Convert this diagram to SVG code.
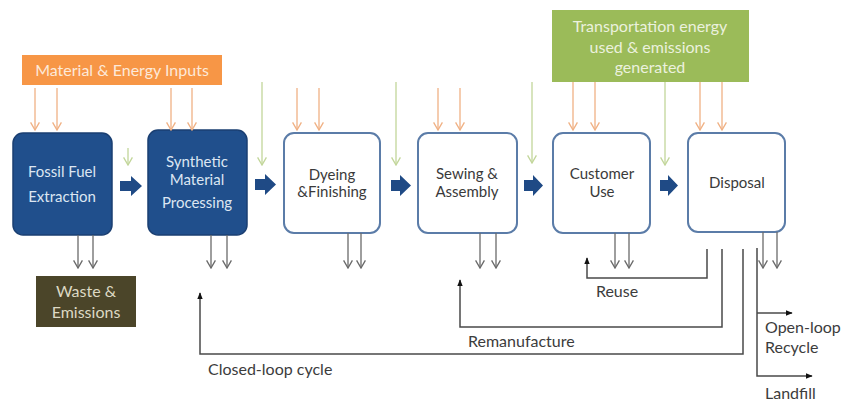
<svg xmlns="http://www.w3.org/2000/svg" width="843" height="403" viewBox="0 0 843 403">
<style>
text{font-family:Lato,"Open Sans","Liberation Sans",sans-serif;font-size:15px}
.dark rect{fill:#204f8c;stroke:#1a3f72;stroke-width:1.5}
.dark text{fill:#dce6f2;text-anchor:middle}
.light rect{fill:#ffffff;stroke:#5b7ca8;stroke-width:2}
.light text{fill:#3a3a3a;text-anchor:middle}
.org{stroke:#f0b184;stroke-width:1.3;fill:none;marker-end:url(#mo)}
.grn{stroke:#c2d69a;stroke-width:1.3;fill:none;marker-end:url(#mg)}
.gry{stroke:#6a6a6a;stroke-width:1.3;fill:none;marker-end:url(#my)}
.loop{stroke:#4a4a4a;stroke-width:1.5;fill:none;marker-end:url(#mb)}
.blk{fill:#1f4a85}
.lbl{fill:#3c3c3c;font-size:16px}
.top{font-size:16px}
</style>
<defs>
<marker id="mo" viewBox="0 0 10 10" refX="5" refY="9" markerWidth="11" markerHeight="11" markerUnits="userSpaceOnUse"><path d="M1,2 L5,9 L9,2" fill="none" stroke="#f0b184" stroke-width="1.2"/></marker>
<marker id="mg" viewBox="0 0 10 10" refX="5" refY="9" markerWidth="11" markerHeight="11" markerUnits="userSpaceOnUse"><path d="M1,2 L5,9 L9,2" fill="none" stroke="#c2d69a" stroke-width="1.2"/></marker>
<marker id="my" viewBox="0 0 10 10" refX="5" refY="9" markerWidth="11" markerHeight="11" markerUnits="userSpaceOnUse"><path d="M1,2 L5,9 L9,2" fill="none" stroke="#6a6a6a" stroke-width="1.2"/></marker>
<marker id="mb" viewBox="0 0 10 10" refX="9" refY="5" markerWidth="7" markerHeight="7" markerUnits="userSpaceOnUse" orient="auto"><path d="M0,1 L10,5 L0,9 Z" fill="#111"/></marker>
</defs>

<g id="inputs">
<rect x="22" y="55" width="200" height="30" fill="#f79646"/>
<text class="top" x="122" y="76" text-anchor="middle" fill="#fde9d9">Material &amp; Energy Inputs</text>
</g>
<g id="transport">
<rect x="552" y="10" width="197" height="72" fill="#9bbb59"/>
<text class="top" x="650" y="32" text-anchor="middle" fill="#ebf1de">Transportation energy</text>
<text class="top" x="650" y="53" text-anchor="middle" fill="#ebf1de">used &amp; emissions</text>
<text class="top" x="650" y="73" text-anchor="middle" fill="#ebf1de">generated</text>
</g>

<g id="fossil" class="dark">
<rect x="13" y="133" width="99" height="102" rx="10"/>
<text x="62" y="177">Fossil Fuel</text>
<text x="62" y="202">Extraction</text>
</g>
<g id="synthetic" class="dark">
<rect x="148" y="130" width="99" height="105" rx="10"/>
<text x="197" y="167">Synthetic</text>
<text x="197" y="185">Material</text>
<text x="197" y="208">Processing</text>
</g>
<g id="dyeing" class="light">
<rect x="284" y="133" width="96" height="100" rx="10"/>
<text x="332" y="180">Dyeing</text>
<text x="332" y="197">&amp;Finishing</text>
</g>
<g id="sewing" class="light">
<rect x="418" y="133" width="99" height="100" rx="10"/>
<text x="467" y="179">Sewing &amp;</text>
<text x="467" y="197">Assembly</text>
</g>
<g id="customer" class="light">
<rect x="553" y="133" width="97" height="100" rx="10"/>
<text x="602" y="179">Customer</text>
<text x="602" y="197">Use</text>
</g>
<g id="disposal" class="light">
<rect x="688" y="133" width="97" height="99" rx="10"/>
<text x="737" y="188">Disposal</text>
</g>
<g id="waste">
<rect x="36" y="276" width="100" height="51" fill="#4b4529"/>
<text x="86" y="297" text-anchor="middle" fill="#ddd9c3" style="font-size:16px">Waste &amp;</text>
<text x="86" y="318" text-anchor="middle" fill="#ddd9c3" style="font-size:16px">Emissions</text>
</g>

<g id="connectors">
<path class="blk" d="M120,181 H131 V176 L142,186 L131,196 V191 H120 Z"/>
<path class="blk" d="M255,179 H265 V174 L276,184.5 L265,195 V190 H255 Z"/>
<path class="blk" d="M391,180 H400 V175 L411,185.5 L400,196 V191 H391 Z"/>
<path class="blk" d="M524,180 H533 V175 L543,185.5 L533,196 V191 H524 Z"/>
<path class="blk" d="M660,180 H668 V175 L678,185.5 L668,196 V191 H660 Z"/>

<path class="org" d="M35,88 V130"/><path class="org" d="M57,88 V130"/>
<path class="org" d="M171,88 V130"/><path class="org" d="M192,88 V130"/>
<path class="org" d="M297,88 V130"/><path class="org" d="M319,88 V130"/>
<path class="org" d="M438,88 V130"/><path class="org" d="M460,88 V130"/>
<path class="org" d="M573,82 V130"/><path class="org" d="M595,82 V130"/>
<path class="org" d="M700,82 V130"/><path class="org" d="M722,82 V130"/>

<path class="grn" d="M128,148 V165"/>
<path class="grn" d="M262,82 V165"/>
<path class="grn" d="M396,82 V165"/>
<path class="grn" d="M532,82 V163"/>
<path class="grn" d="M665,82 V165"/>

<path class="gry" d="M78,235 V268"/><path class="gry" d="M93,235 V268"/>
<path class="gry" d="M211,235 V268"/><path class="gry" d="M227,235 V268"/>
<path class="gry" d="M348,233 V268"/><path class="gry" d="M361,233 V268"/>
<path class="gry" d="M480,233 V268"/><path class="gry" d="M496,233 V268"/>
<path class="gry" d="M615,233 V268"/><path class="gry" d="M629,233 V268"/>
<path class="gry" d="M763,232 V268"/><path class="gry" d="M777,232 V268"/>

<path class="loop" d="M707,249 V278 H587 V258"/>
<path class="loop" d="M722,249 V327 H460 V280"/>
<path class="loop" d="M743,249 V354 H200 V293"/>
<path class="loop" d="M757,248 V376 H812"/>
<path class="loop" d="M757,313 H792"/>
</g>

<g id="labels">
<text class="lbl" x="617" y="297" text-anchor="middle">Reuse</text>
<text class="lbl" x="468" y="347">Remanufacture</text>
<text class="lbl" x="208" y="375">Closed-loop cycle</text>
<text class="lbl" x="765" y="333">Open-loop</text>
<text class="lbl" x="765" y="353">Recycle</text>
<text class="lbl" x="765" y="399">Landfill</text>
</g>
</svg>
